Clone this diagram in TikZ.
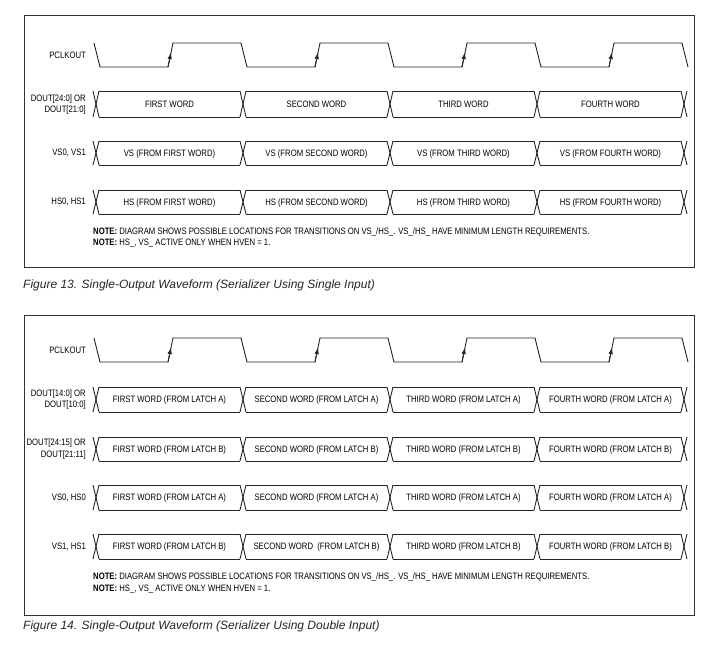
\documentclass[tikz,border=0pt]{standalone}
\usepackage{fontspec}
\setmainfont{Liberation Sans}
\newfontfamily\nfont[FakeStretch=0.83]{Liberation Sans}
\usetikzlibrary{arrows.meta}
\newcommand{\clkwave}[2]{%
  \draw[wave] (94,#1) -- (100,#2) -- (168,#2) -- (173,#1) -- (241,#1) -- (247,#2) -- (315,#2) -- (320,#1) -- (388,#1) -- (394,#2) -- (462,#2) -- (467,#1) -- (535,#1) -- (541,#2) -- (609,#2) -- (614,#1) -- (682,#1) -- (688,#2);
  \foreach \k in {0,...,3} \draw[clkarr] ({168+147*\k},#2) -- ({171.1+147*\k},{#2-0.62*(#2-#1)});
}
\newcommand{\busrow}[2]{%
  \foreach \k in {0,...,4} {\draw[wave] ({93+147*\k},#1) -- ({99+147*\k},#2); \draw[wave] ({93+147*\k},#2) -- ({99+147*\k},#1);}
  \foreach \k in {0,...,3} {\draw[wave] ({99+147*\k},#1) -- ({240+147*\k},#1); \draw[wave] ({99+147*\k},#2) -- ({240+147*\k},#2);}
}
\begin{document}
\begin{tikzpicture}[x=1pt,y=-1pt,
  wave/.style={line width=0.9pt, draw=black!85},
  frame/.style={line width=1pt, draw=black!80},
  lbl/.style={anchor=east, inner sep=0pt, font=\nfont\fontsize{9.3}{11.5}\selectfont, align=right},
  seg/.style={inner sep=0pt, text height=6.7pt, text depth=0pt, font=\nfont\fontsize{9.3}{11}\selectfont},
  note/.style={anchor=west, inner sep=0pt, text height=6.7pt, text depth=0pt, font=\nfont\fontsize{9.3}{11}\selectfont},
  figcap/.style={anchor=west, inner sep=0pt, text height=8.6pt, text depth=0pt, font=\fontsize{12}{14}\selectfont\itshape, text=black!85},
  clkarr/.style={-{Latex[length=7pt,width=4.5pt]}, line width=0.9pt, draw=black!85, fill=black!85}]
\fill[white] (0,0) rectangle (718,671);
\useasboundingbox (0,0) rectangle (718,671);
% ---------- Figure 13 ----------
\draw[frame] (24,16) rectangle (694,268);
\clkwave{43}{67}
\busrow{91}{117}
\busrow{141}{165}
\busrow{190}{214}
\node[lbl] (a0) at (86,55) {PCLKOUT};
\node[lbl] (a1) at (86,104.5) {DOUT[24:0] OR\\DOUT[21:0]};
\node[lbl] (a2) at (86,153) {VS0, VS1};
\node[lbl] (a3) at (86,202) {HS0, HS1};
\foreach \t [count=\i from 0] in {FIRST,SECOND,THIRD,FOURTH} {
  \node[seg] (aw\i) at ({169.5+147*\i},104) {\t\ WORD};
  \node[seg] (av\i) at ({169.5+147*\i},153) {VS (FROM \t\ WORD)};
  \node[seg] (ah\i) at ({169.5+147*\i},202) {HS (FROM \t\ WORD)};
}
\node[note] (an1) at (93,231) {\textbf{NOTE:} DIAGRAM SHOWS POSSIBLE LOCATIONS FOR TRANSITIONS ON VS\_/HS\_. VS\_/HS\_ HAVE MINIMUM LENGTH REQUIREMENTS.};
\node[note] (an2) at (93,242) {\textbf{NOTE:} HS\_, VS\_ ACTIVE ONLY WHEN HVEN = 1.};
\node[figcap] (ac) at (23,284) {Figure 13. Single-Output Waveform (Serializer Using Single Input)};
% ---------- Figure 14 ----------
\draw[frame] (24,316) rectangle (694,615);
\clkwave{338}{362}
\busrow{387}{412}
\busrow{437}{461}
\busrow{485}{510}
\busrow{534}{559}
\node[lbl] (b0) at (86,350) {PCLKOUT};
\node[lbl] (b1) at (86,399.5) {DOUT[14:0] OR\\DOUT[10:0]};
\node[lbl] (b2) at (86,449) {DOUT[24:15] OR\\DOUT[21:11]};
\node[lbl] (b3) at (86,497.5) {VS0, HS0};
\node[lbl] (b4) at (86,546.5) {VS1, HS1};
\foreach \t [count=\i from 0] in {FIRST,SECOND,THIRD,FOURTH} {
  \node[seg] (bw\i) at ({169.5+147*\i},399.5) {\t\ WORD (FROM LATCH A)};
  \node[seg] (bx\i) at ({169.5+147*\i},449) {\t\ WORD (FROM LATCH B)};
  \node[seg] (by\i) at ({169.5+147*\i},497.5) {\t\ WORD (FROM LATCH A)};
}
\node[seg] (bz0) at (169.5,546.5) {FIRST WORD (FROM LATCH B)};
\node[seg] (bz1) at (316.5,546.5) {SECOND WORD\ \ (FROM LATCH B)};
\node[seg] (bz2) at (463.5,546.5) {THIRD WORD (FROM LATCH B)};
\node[seg] (bz3) at (610.5,546.5) {FOURTH WORD (FROM LATCH B)};
\node[note] (bn1) at (93,576) {\textbf{NOTE:} DIAGRAM SHOWS POSSIBLE LOCATIONS FOR TRANSITIONS ON VS\_/HS\_. VS\_/HS\_ HAVE MINIMUM LENGTH REQUIREMENTS.};
\node[note] (bn2) at (93,588) {\textbf{NOTE:} HS\_, VS\_ ACTIVE ONLY WHEN HVEN = 1.};
\node[figcap] (bc) at (23,625) {Figure 14. Single-Output Waveform (Serializer Using Double Input)};
\end{tikzpicture}
\end{document}
